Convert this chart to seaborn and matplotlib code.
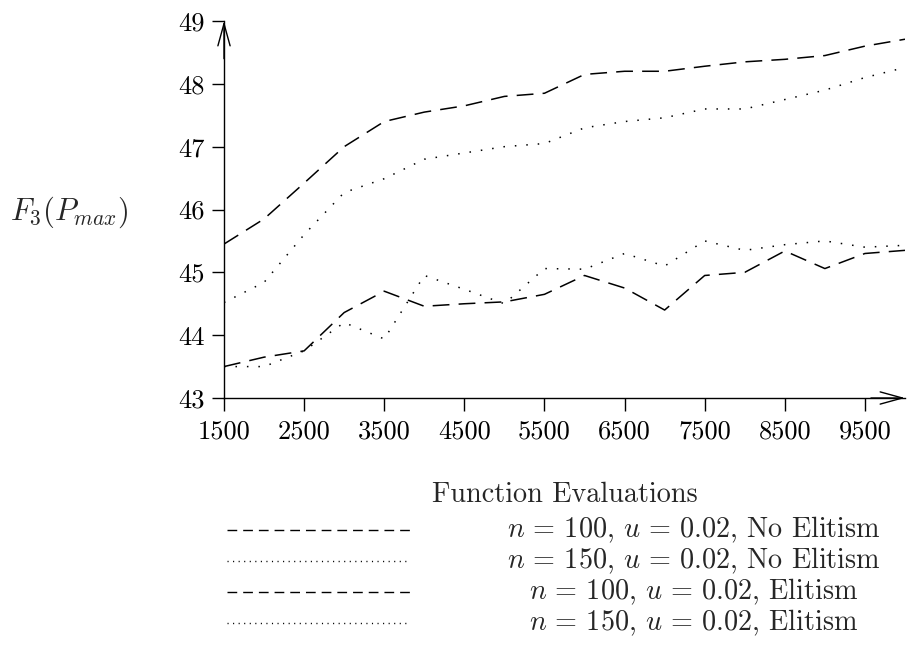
import matplotlib
matplotlib.use("Agg")
import matplotlib.pyplot as plt
from matplotlib.lines import Line2D
import numpy as np
import pandas as pd
import seaborn as sns

# Function evaluations (x) and best fitness F3(Pmax) for each configuration
evaluations = [1500, 2000, 2500, 3000, 3500, 4000, 4500, 5000, 5500,
               6000, 6500, 7000, 7500, 8000, 8500, 9000, 9500, 10000]

n100_no_elitism = [45.45, 45.85, 46.42, 47.0, 47.4, 47.55, 47.65, 47.8, 47.85,
                   48.15, 48.2, 48.2, 48.28, 48.35, 48.39, 48.45, 48.6, 48.71]
n150_no_elitism = [44.52, 44.84, 45.6, 46.27, 46.49, 46.8, 46.9, 47.0, 47.05,
                   47.3, 47.4, 47.46, 47.6, 47.6, 47.75, 47.9, 48.1, 48.26]
n100_elitism = [43.5, 43.65, 43.75, 44.36, 44.7, 44.46, 44.5, 44.53, 44.65,
                44.95, 44.75, 44.4, 44.95, 45.0, 45.34, 45.06, 45.3, 45.35]
n150_elitism = [43.5, 43.5, 43.75, 44.2, 43.94, 44.95, 44.73, 44.5, 45.06,
                45.05, 45.3, 45.1, 45.5, 45.35, 45.44, 45.5, 45.4, 45.43]

series_labels = [r"$n\,=\,100,\,u\,=\,0.02$, No Elitism",
                 r"$n\,=\,150,\,u\,=\,0.02$, No Elitism",
                 r"$n\,=\,100,\,u\,=\,0.02$, Elitism",
                 r"$n\,=\,150,\,u\,=\,0.02$, Elitism"]

x_ticks = [1500, 2500, 3500, 4500, 5500, 6500, 7500, 8500, 9500]
y_ticks = [43, 44, 45, 46, 47, 48, 49]

sns.set_theme(style="white")
plt.rcParams["font.family"] = ["cmr10", "DejaVu Serif"]
plt.rcParams["mathtext.fontset"] = "cm"
plt.rcParams["axes.unicode_minus"] = False
plt.rcParams["axes.formatter.use_mathtext"] = True

fig = plt.figure(figsize=(9.07, 6.51), dpi=100)
W, H = 907, 651
ax = fig.add_axes([224 / W, 1 - 398 / H, (905 - 224) / W, (398 - 21) / H])

dash_plot = (0, (11, 6))
dot_plot = (0, (1, 6.5))
styles = [dash_plot, dot_plot, dash_plot, dot_plot]
all_series = [n100_no_elitism, n150_no_elitism, n100_elitism, n150_elitism]

for values, ls in zip(all_series, styles):
    df = pd.DataFrame({"evals": evaluations, "fitness": values})
    sns.lineplot(data=df, x="evals", y="fitness", ax=ax, color="black",
                 linewidth=1.1, linestyle=ls)

ax.set_xlim(1500, 10000)
ax.set_ylim(43, 49)
ax.set_xticks(x_ticks)
ax.set_xticklabels([str(t) for t in x_ticks])
ax.set_yticks(y_ticks)
ax.set_yticklabels([str(t) for t in y_ticks])
ax.set_xlabel("")
ax.set_ylabel("")

for side in ["top", "right"]:
    ax.spines[side].set_visible(False)
for side in ["left", "bottom"]:
    ax.spines[side].set_color("black")
    ax.spines[side].set_linewidth(1.0)

ax.tick_params(axis="both", direction="out", length=9, width=1.0,
               colors="black", labelsize=19)
ax.tick_params(axis="x", pad=7, bottom=True)
ax.tick_params(axis="y", pad=5, left=True)

# open arrow heads at the ends of both axes
arrow = dict(arrowstyle="->,head_length=0.8,head_width=0.22", color="black",
             lw=1.0, shrinkA=0, shrinkB=0, mutation_scale=20)
ax.annotate("", xy=(0, 1), xytext=(0, 0.9), xycoords="axes fraction",
            textcoords="axes fraction", arrowprops=arrow, annotation_clip=False)
ax.annotate("", xy=(1, 0), xytext=(0.95, 0), xycoords="axes fraction",
            textcoords="axes fraction", arrowprops=arrow, annotation_clip=False)

# axis titles
fig.text(69 / W, 1 - 212 / H, r"$F_3(P_{max})$", ha="center", va="center",
         fontsize=22)
fig.text(565 / W, 1 - 495 / H, "Function Evaluations", ha="center",
         va="center", fontsize=20.3)

# legend: sample line on the left, centered label on the right
legend_rows = [530, 561, 592, 623]
legend_styles = [(0, (7, 4.3)), (0, (0.8, 3.2)), (0, (7, 4.3)), (0, (0.8, 3.2))]
for y, ls, label in zip(legend_rows, legend_styles, series_labels):
    fig.add_artist(Line2D([227 / W, 410 / W], [1 - y / H, 1 - y / H],
                          transform=fig.transFigure, color="black",
                          linewidth=1.0, linestyle=ls))
    fig.text(694 / W, 1 - y / H, label, ha="center", va="center", fontsize=20.3)

fig.savefig("out.png", dpi=100, facecolor="white")
